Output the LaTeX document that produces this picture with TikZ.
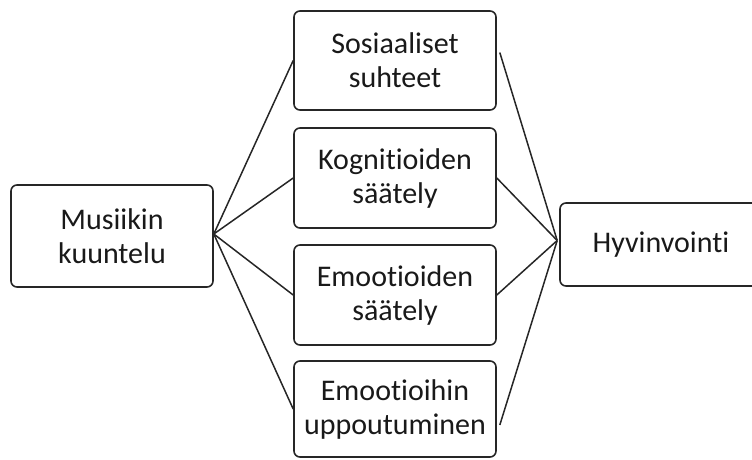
\documentclass[tikz,border=0pt]{standalone}
\usepackage{fontspec}
\setmainfont{Carlito}[Ligatures=NoCommon]
\begin{document}
\begin{tikzpicture}[x=1pt,y=-1pt,
  box/.style={draw=black!85,line width=1.6pt,rounded corners=6pt,minimum width=202pt,align=center,inner sep=2pt,font=\fontsize{30}{34}\selectfont,text=black!90},
  link/.style={draw=black!85,line width=1.5pt}]
\useasboundingbox (0,0) rectangle (752,459);
\node[box,minimum height=102pt] (mk) at (112,236) {Musiikin\\kuuntelu};
\node[box,minimum height=99pt] (b1) at (395,60.5) {Sosiaaliset\\suhteet};
\node[box,minimum height=100pt] (b2) at (395,178) {Kognitioiden\\säätely};
\node[box,minimum height=100pt] (b3) at (395,295) {Emootioiden\\säätely};
\node[box,minimum height=96pt] (b4) at (395,409) {Emootioihin\\uppoutuminen};
\node[box,minimum height=83pt] (hv) at (661,244.5) {Hyvinvointi};
\coordinate (lp) at ([yshift=2pt]mk.east);
\coordinate (rp) at ([xshift=-2pt,yshift=4pt]hv.west);
\coordinate (r1) at ([xshift=3pt,yshift=8pt]b1.east);
\coordinate (r4) at ([xshift=3pt,yshift=-16pt]b4.east);
\foreach \b in {b1,b2,b3,b4} \draw[link] (lp) -- (\b.west);
\draw[link] (r1) -- (rp);
\draw[link] (b2.east) -- (rp);
\draw[link] (b3.east) -- (rp);
\draw[link] (r4) -- (rp);
\end{tikzpicture}
\end{document}
